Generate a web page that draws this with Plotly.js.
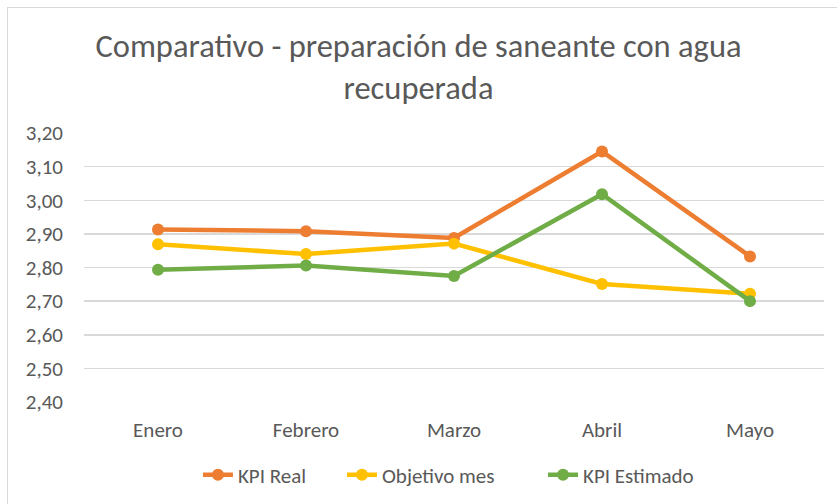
<!DOCTYPE html>
<html>
<head>
<meta charset="utf-8">
<script src="https://cdn.plot.ly/plotly-3.0.1.min.js"></script>
<style>
  html, body { margin: 0; padding: 0; background: #fff; }
  #wrap { position: relative; width: 837px; height: 504px; }
  #chart { position: absolute; left: 0; top: 0; width: 837px; height: 504px; }
  #frame { position: absolute; left: 7px; top: 7px; width: 836px; height: 520px; border: 1px solid #D9D9D9; pointer-events: none; }
</style>
</head>
<body>
<div id="wrap">
  <div id="chart"></div>
  <div id="frame"></div>
</div>
<script>
const categories = ["Enero", "Febrero", "Marzo", "Abril", "Mayo"];
const kpiReal = [2.913, 2.908, 2.888, 3.145, 2.833];
const objetivoMes = [2.869, 2.840, 2.871, 2.751, 2.722];
const kpiEstimado = [2.793, 2.806, 2.775, 3.018, 2.700];
const yTicks = [2.4, 2.5, 2.6, 2.7, 2.8, 2.9, 3.0, 3.1, 3.2];

const font = "Calibri, Carlito, Lato, sans-serif";

function series(name, values, color, legendId) {
  return {
    type: "scatter", mode: "lines+markers", name: name,
    x: categories, y: values,
    line: { color: color, width: 4.5 },
    marker: { color: color, size: 12 },
    legend: legendId,
    hoverinfo: "skip"
  };
}

const data = [
  series("KPI Real", kpiReal, "#ED7D31", "legend"),
  series("Objetivo mes", objetivoMes, "#FFC000", "legend2"),
  series("KPI Estimado", kpiEstimado, "#70AD47", "legend3")
];

function legendAt(x) {
  return {
    orientation: "h",
    x: x, xanchor: "left",
    y: -0.272, yanchor: "middle",
    font: { size: 21, color: "#595959" },
    bgcolor: "rgba(0,0,0,0)"
  };
}

const layout = {
  width: 837, height: 504,
  margin: { l: 84, r: 13, t: 133, b: 102, autoexpand: false },
  paper_bgcolor: "rgba(0,0,0,0)",
  plot_bgcolor: "rgba(0,0,0,0)",
  separators: ",.",
  font: { family: font, color: "#595959", size: 21 },
  title: {
    text: "Comparativo - preparación de saneante con agua<br>recuperada",
    font: { family: font, size: 32.5, color: "#595959" },
    x: 0.5, xanchor: "center", y: 0.887, yanchor: "middle"
  },
  xaxis: {
    type: "category",
    range: [-0.5, 4.5],
    showgrid: false,
    showline: false,
    zeroline: false,
    ticks: "",
    tickfont: { size: 21, color: "#595959" },
    ticklabelstandoff: 13,
    fixedrange: true
  },
  yaxis: {
    range: [2.4, 3.2],
    tickvals: yTicks,
    tickformat: ".2f",
    showgrid: true,
    gridcolor: "#D9D9D9",
    gridwidth: 1.5,
    zeroline: false,
    showline: false,
    ticks: "",
    tickfont: { size: 21, color: "#595959" },
    ticklabelstandoff: 20,
    fixedrange: true
  },
  showlegend: true,
  legend: legendAt(0.154),
  legend2: legendAt(0.3486),
  legend3: legendAt(0.6203)
};

Plotly.newPlot("chart", data, layout, { displayModeBar: false, staticPlot: true });
</script>
</body>
</html>
